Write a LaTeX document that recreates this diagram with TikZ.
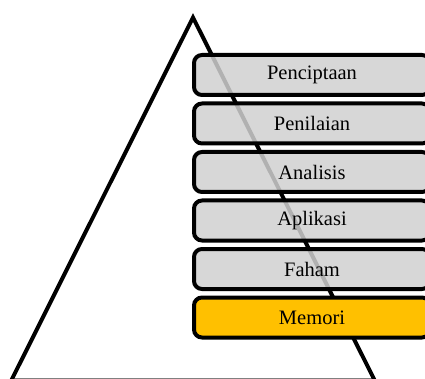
\documentclass[tikz,border=0pt]{standalone}
\usepackage{fontspec}
\setmainfont{Liberation Serif}
\usepackage{xcolor}
\usetikzlibrary{positioning}
\definecolor{boxgray}{HTML}{D0D0D0}
\definecolor{memyellow}{HTML}{FFC000}
\tikzset{levelbox/.style={draw=black,line width=4pt,rounded corners=8pt,
  minimum width=236pt,minimum height=40pt,inner sep=0pt,
  font=\fontsize{20.5}{24}\selectfont}}
\begin{document}
\begin{tikzpicture}[x=1pt,y=-1pt]
\useasboundingbox (0,0) rectangle (425,379);
\draw[gray,line width=1pt] (12,378.5) -- (374,378.5);
\draw[line width=4pt,miter limit=10] (10,383) -- (193,17.5) -- (376,383);
\foreach \t [count=\i] in {Penciptaan,Penilaian,Analisis,Aplikasi,Faham}
\node[levelbox,fill=boxgray,fill opacity=0.85,text opacity=1]
  (lvl\i) at (312,{75+48.5*(\i-1)}) {\t};
\node[levelbox,fill=memyellow] (lvl6) at (312,317.5) {Memori};
\end{tikzpicture}
\end{document}
